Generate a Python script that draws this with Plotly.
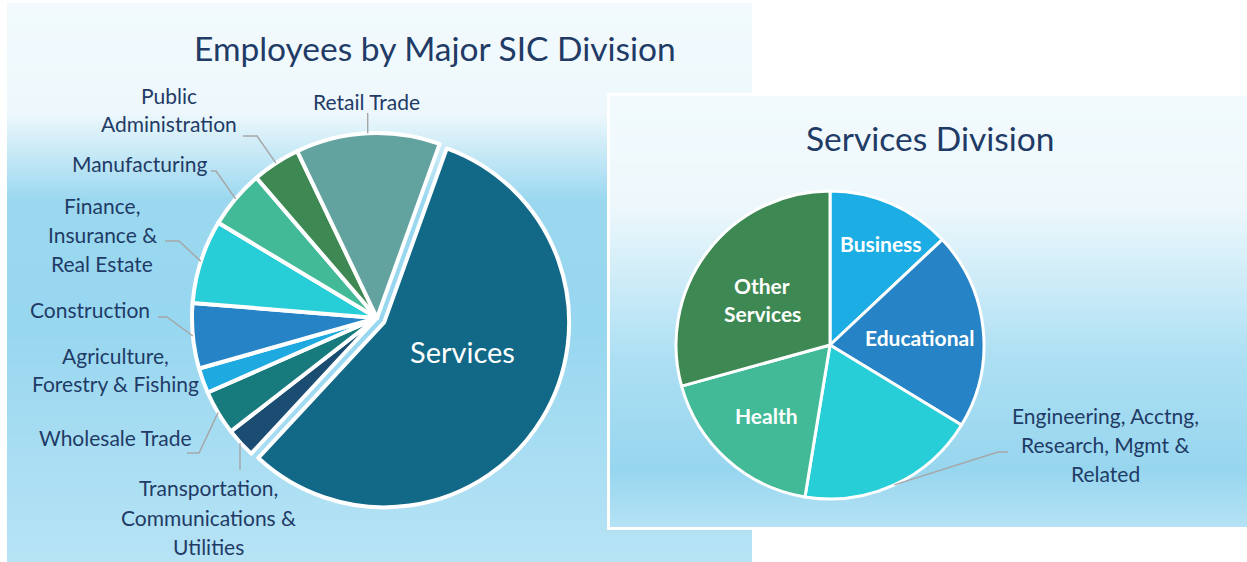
import math, zlib, struct, base64
import plotly.graph_objects as go

# ---------------- data ----------------
sic_labels = ["Services", "Transportation, Communications & Utilities", "Wholesale Trade",
              "Agriculture, Forestry & Fishing", "Construction",
              "Finance, Insurance & Real Estate", "Manufacturing",
              "Public Administration", "Retail Trade"]
sic_values = [56.4, 2.6, 3.9, 2.2, 5.7, 7.3, 5.1, 4.2, 12.6]
sic_colors = ["#116887", "#1B4D72", "#177A7C", "#1EAAE0", "#2683C6",
              "#27CED7", "#42BA97", "#3E8853", "#62A39F"]
sic_pull = [0.045, 0, 0, 0, 0, 0, 0, 0, 0]

svc_labels = ["Business", "Educational", "Engineering, Acctng, Research, Mgmt & Related",
              "Health", "Other Services"]
svc_values = [13.0, 20.7, 18.9, 18.1, 29.3]
svc_colors = ["#1CADE4", "#2683C6", "#27CED7", "#42BA97", "#3E8853"]

W, H = 1247, 562
FONT = "Lato"
TXT = "#1F3B66"
LEAD = "#A6A6A6"

def px(x):
    return x / W

def py(y):
    return 1 - y / H

# ---------------- gradient backgrounds ----------------
def gradient_png(stops, y0, y1):
    h = int(y1 - y0)
    rows = []
    for i in range(h):
        y = y0 + i + 0.5
        c = stops[-1][1]
        if y <= stops[0][0]:
            c = stops[0][1]
        for (ya, ca), (yb, cb) in zip(stops[:-1], stops[1:]):
            if ya <= y <= yb:
                t = 0 if yb == ya else (y - ya) / (yb - ya)
                c = [round(ca[k] + (cb[k] - ca[k]) * t) for k in range(3)]
                break
        rows.append(b"\x00" + bytes(c) * 2)
    raw = b"".join(rows)

    def chunk(tag, data):
        return (struct.pack(">I", len(data)) + tag + data +
                struct.pack(">I", zlib.crc32(tag + data) & 0xffffffff))
    png = (b"\x89PNG\r\n\x1a\n" +
           chunk(b"IHDR", struct.pack(">IIBBBBB", 2, h, 8, 2, 0, 0, 0)) +
           chunk(b"IDAT", zlib.compress(raw)) + chunk(b"IEND", b""))
    return "data:image/png;base64," + base64.b64encode(png).decode()

left_stops = [(3, (242, 250, 253)), (112, (238, 248, 252)), (200, (155, 216, 240)),
              (330, (152, 215, 240)), (562, (183, 227, 245))]
right_stops = [(96, (242, 250, 253)), (205, (238, 248, 252)), (360, (172, 223, 243)),
               (470, (151, 214, 239)), (527, (181, 226, 245))]

images = [
    dict(source=gradient_png(left_stops, 3, 562), xref="paper", yref="paper",
         x=px(7), y=py(3), sizex=px(752) - px(7), sizey=(562 - 3) / H,
         xanchor="left", yanchor="top", sizing="stretch", layer="below"),
    dict(source=gradient_png(right_stops, 96, 527), xref="paper", yref="paper",
         x=px(610), y=py(96), sizex=px(1247) - px(610), sizey=(527 - 96) / H,
         xanchor="left", yanchor="top", sizing="stretch", layer="below"),
]

# ---------------- pies ----------------
L_CX, L_CY, L_R = 377, 318, 185
R_CX, R_CY, R_R = 830, 345, 154
L_ROT, R_ROT = 19.8, 0
lh = L_R * (1 + max(sic_pull))

fig = go.Figure()
fig.add_trace(go.Pie(
    labels=sic_labels, values=sic_values, sort=False, direction="clockwise",
    rotation=L_ROT, pull=sic_pull, textinfo="none", hoverinfo="label+percent",
    marker=dict(colors=sic_colors, line=dict(color="white", width=4)),
    domain=dict(x=[px(L_CX - lh), px(L_CX + lh)], y=[py(L_CY + lh), py(L_CY - lh)]),
    showlegend=False))
fig.add_trace(go.Pie(
    labels=svc_labels, values=svc_values, sort=False, direction="clockwise",
    rotation=R_ROT, textinfo="none", hoverinfo="label+percent",
    marker=dict(colors=svc_colors, line=dict(color="white", width=3)),
    domain=dict(x=[px(R_CX - R_R), px(R_CX + R_R)], y=[py(R_CY + R_R), py(R_CY - R_R)]),
    showlegend=False))

def edge_points(values, rot, cx, cy, r):
    tot = sum(values)
    a = rot
    pts = []
    for v in values:
        span = v / tot * 360
        m = math.radians(a + span / 2)
        pts.append((cx + r * math.sin(m), cy - r * math.cos(m)))
        a += span
    return pts

lp = edge_points(sic_values, L_ROT, L_CX, L_CY, L_R)
rp = edge_points(svc_values, R_ROT, R_CX, R_CY, R_R)

# leader line routes (elbow, end) for labelled slices
left_leaders = {
    1: [(240, 470)],
    2: [(199, 453), (187, 453)],
    4: [(167, 317), (158, 317)],
    5: [(179, 241), (165, 241)],
    6: [(216, 171), (211, 171)],
    7: [(257, 136), (243, 136)],
    8: [(368, 113)],
}
shapes = []
for idx, route in left_leaders.items():
    x0, y0 = lp[idx]
    if len(route) == 1:
        x0 = route[0][0] if idx == 1 else x0
        route = [(x0, route[0][1])]
    path = f"M {px(x0)},{py(y0)} " + " ".join(f"L {px(x)},{py(y)}" for x, y in route)
    shapes.append(dict(type="path", path=path, xref="paper", yref="paper",
                       line=dict(color=LEAD, width=1.4), layer="above"))
ex, ey = rp[2]
shapes.append(dict(type="path", xref="paper", yref="paper",
                   path=f"M {px(ex)},{py(ey)} L {px(998)},{py(452)} L {px(1008)},{py(452)}",
                   line=dict(color=LEAD, width=1.4), layer="above"))
# white frame round the Services Division panel
shapes.append(dict(type="rect", xref="paper", yref="paper",
                   x0=px(608.5), x1=px(1260), y0=py(528.5), y1=py(94.5),
                   line=dict(color="white", width=3), fillcolor="rgba(0,0,0,0)", layer="below"))

# ---------------- text ----------------
ann = []

def txt(s, x, y, size=21, color=TXT, bold=False):
    ann.append(dict(text=f"<b>{s}</b>" if bold else s, x=px(x), y=py(y),
                    xref="paper", yref="paper", xanchor="center", yanchor="middle",
                    showarrow=False, font=dict(family=FONT, size=size, color=color)))

txt("Employees by Major SIC Division", 435, 48, size=33.5)
txt("Services Division", 931, 138, size=33.5)

label_lines = [
    ("Retail Trade", 366, 101), ("Public", 169, 95), ("Administration", 169, 124),
    ("Manufacturing", 139, 164), ("Finance,", 102, 205), ("Insurance &", 102, 234),
    ("Real Estate", 102, 263), ("Construction", 90, 309), ("Agriculture,", 115, 355),
    ("Forestry & Fishing", 115, 383), ("Wholesale Trade", 115, 437),
    ("Transportation,", 208, 487), ("Communications &", 208, 517), ("Utilities", 208, 546),
    ("Engineering, Acctng,", 1105, 416), ("Research, Mgmt &", 1105, 445), ("Related", 1105, 474),
]
for s, x, y in label_lines:
    txt(s, x, y, size=21)

txt("Services", 462, 351, size=29, color="white")
for s, x, y in [("Business", 881, 243), ("Educational", 919, 337), ("Other", 762, 285),
                ("Services", 762, 313), ("Health", 766, 415)]:
    txt(s, x, y, size=21, color="white", bold=True)

fig.update_layout(width=W, height=H, margin=dict(l=0, r=0, t=0, b=0),
                  paper_bgcolor="white", plot_bgcolor="white",
                  images=images, shapes=shapes, annotations=ann,
                  font=dict(family=FONT))
fig.write_html("out.html", config={"displayModeBar": False},
               post_script="document.body.style.margin='0';document.body.style.overflow='hidden';")
